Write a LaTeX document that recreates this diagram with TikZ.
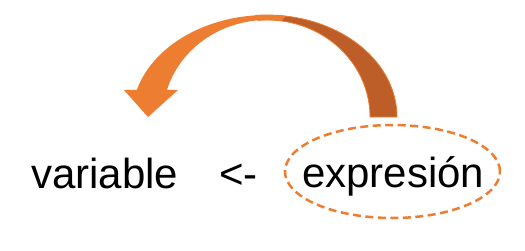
\documentclass[tikz,border=0pt]{standalone}
\usepackage{fontspec}
\setmainfont{Liberation Sans}
\usetikzlibrary{shapes.geometric,calc}
\definecolor{arrowlight}{HTML}{ED7D31}
\definecolor{arrowdark}{HTML}{BD5E28}
\begin{document}
\begin{tikzpicture}[x=1pt,y=1pt,
  word/.style={anchor=base west,inner sep=0pt,font=\fontsize{42}{50}\selectfont},
  oval/.style={ellipse,draw=arrowlight,line width=2.5pt,dash pattern=on 8pt off 4.5pt,
    minimum width=215pt,minimum height=93pt,inner sep=0pt}]
\useasboundingbox (0,0) rectangle (525,250);
\coordinate (c) at (267,133);
% back band of the curved arrow (darker, rising from the tail)
\filldraw[fill=arrowdark,draw=arrowlight,line width=0.8pt]
  (397,133) arc[start angle=0,end angle=95,x radius=130,y radius=102]
  -- ($(c)+(95:103 and 97)$)
  arc[start angle=95,end angle=0,x radius=103,y radius=97] -- cycle;
% front band with the arrow head
\fill[arrowlight]
  ($(c)+(82:135 and 102)$)
  arc[start angle=82,end angle=164.6,x radius=135,y radius=102]
  -- (124,160) -- (148,133) -- (178,160)
  -- ($(c)+(163.8:104.1 and 97)$)
  arc[start angle=163.8,end angle=82,x radius=104.1,y radius=97] -- cycle;
% assignment text
\node[word] (var) at (31,62) {variable};
\node[word] (op) at (219,62) {<-};
\node[word] (expr) at (302,63) {expresión};
\node[oval] (ring) at (392.5,78.5) {};
\end{tikzpicture}
\end{document}
